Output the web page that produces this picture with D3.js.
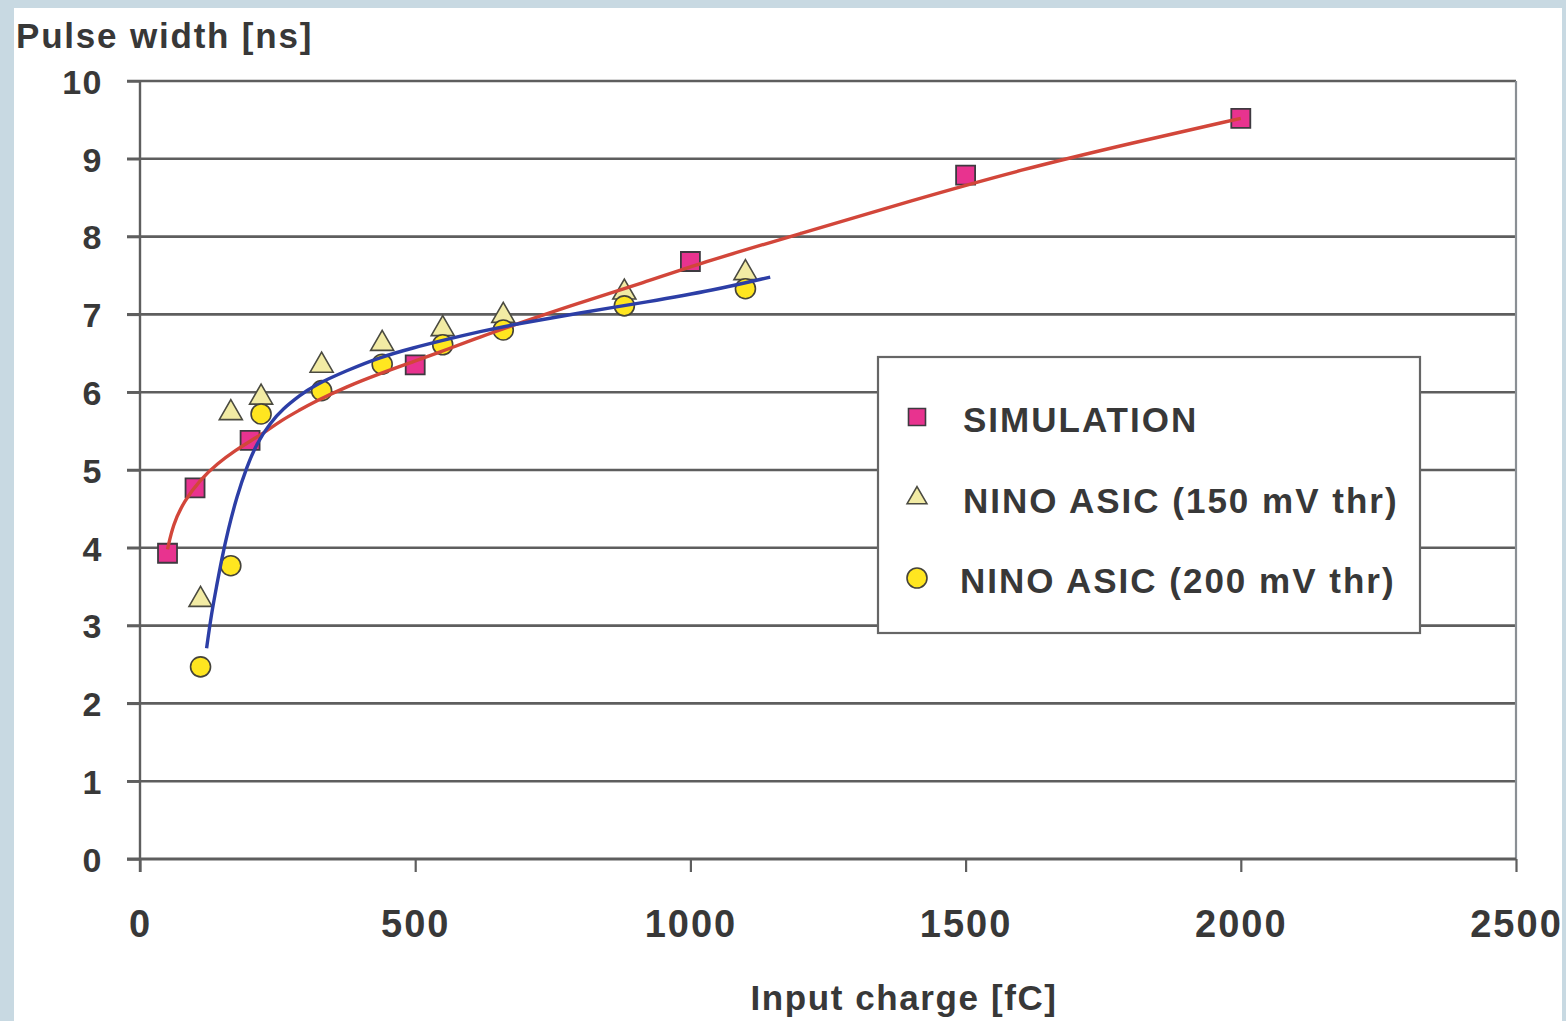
<!DOCTYPE html>
<html>
<head>
<meta charset="utf-8">
<script src="https://cdn.jsdelivr.net/npm/d3@7"></script>
<style>
  html, body { margin: 0; padding: 0; background: #c8d9e2; }
  svg { display: block; }
  text { font-family: "Liberation Sans", Arial, Helvetica, sans-serif; font-weight: bold; fill: #383838; }
</style>
</head>
<body>
<svg id="chart" width="1566" height="1021"></svg>
<script>
// ---- data ----
const xTicks = [0, 500, 1000, 1500, 2000, 2500];
const yTicks = [0, 1, 2, 3, 4, 5, 6, 7, 8, 9, 10];

const simX = [50, 100, 200, 500, 1000, 1500, 2000];
const simY = [3.93, 4.77, 5.38, 6.35, 7.68, 8.79, 9.52];

const nino150X = [110, 165, 220, 330, 440, 550, 660, 880, 1100];
const nino150Y = [3.32, 5.72, 5.92, 6.33, 6.61, 6.80, 6.97, 7.27, 7.52];

const nino200X = [110, 165, 220, 330, 440, 550, 660, 880, 1100];
const nino200Y = [2.47, 3.77, 5.72, 6.02, 6.36, 6.61, 6.80, 7.11, 7.33];

// fitted trend curves
const simFitX = [50, 60, 80, 110, 140, 175, 200, 230, 255, 290, 315, 375, 436, 500, 558, 618, 678, 799, 921, 1000, 1200, 1400, 1600, 1800, 2000];
const simFitY = [3.98, 4.3, 4.6, 4.88, 5.08, 5.26, 5.37, 5.5, 5.63, 5.77, 5.87, 6.07, 6.24, 6.4, 6.55, 6.71, 6.86, 7.15, 7.42, 7.62, 8.04, 8.46, 8.86, 9.2, 9.52];

const ninoFitX = [121, 130, 139, 148, 160, 176, 194, 212, 236, 260, 291, 314, 376, 436, 496, 558, 618, 678, 799, 921, 1042, 1145];
const ninoFitY = [2.71, 3.16, 3.5, 3.84, 4.23, 4.66, 5.04, 5.34, 5.6, 5.79, 5.96, 6.08, 6.28, 6.45, 6.57, 6.68, 6.78, 6.87, 7.02, 7.16, 7.31, 7.48];

const legendLabels = ["SIMULATION", "NINO ASIC (150 mV thr)", "NINO ASIC (200 mV thr)"];
const yTitle = "Pulse width [ns]";
const xTitle = "Input charge [fC]";

// ---- drawing ----
const svg = d3.select("#chart");
const W = 1566, H = 1021;

// white panel
svg.append("rect").attr("x", 14).attr("y", 8).attr("width", 1548).attr("height", H - 8).attr("fill", "#ffffff");

const x = d3.scaleLinear().domain([0, 2500]).range([140, 1516]);
const y = d3.scaleLinear().domain([0, 10]).range([859, 81]);

const gridColor = "#5e5e5e";

// horizontal grid lines (incl. tick stubs to the left)
svg.append("g").selectAll("line").data(yTicks.filter(d => d > 0)).join("line")
  .attr("x1", x(0) - 13).attr("x2", x(2500))
  .attr("y1", d => y(d)).attr("y2", d => y(d))
  .attr("stroke", gridColor).attr("stroke-width", 2.6);

// right border
svg.append("line").attr("x1", x(2500)).attr("x2", x(2500)).attr("y1", y(10)).attr("y2", y(0))
  .attr("stroke", "#8a8f94").attr("stroke-width", 2.2);

// y axis
const yAxis = d3.axisLeft(y).tickValues(yTicks).tickSize(13).tickPadding(24).tickFormat(d3.format("d"));
const gy = svg.append("g").attr("transform", `translate(${x(0)},0)`).call(yAxis);
gy.select(".domain").attr("stroke", gridColor).attr("stroke-width", 2.4).attr("d", `M0,${y(10)}V${y(0) + 13}`);
gy.selectAll(".tick line").attr("stroke", gridColor).attr("stroke-width", 2.4);
gy.selectAll(".tick text").attr("font-size", 34).attr("font-family", null).attr("fill", "#383838")
  .attr("letter-spacing", 1.5).attr("dy", "0.36em").attr("x", -37);

// x axis
const xAxis = d3.axisBottom(x).tickValues(xTicks).tickSize(13).tickPadding(40).tickFormat(d3.format("d"));
const gx = svg.append("g").attr("transform", `translate(0,${y(0)})`).call(xAxis);
gx.select(".domain").attr("stroke", gridColor).attr("stroke-width", 2.8).attr("d", `M${x(0) - 13},0H${x(2500)}`);
gx.selectAll(".tick line").attr("stroke", gridColor).attr("stroke-width", 2.2);
gx.selectAll(".tick text").attr("font-size", 38).attr("font-family", null).attr("fill", "#383838")
  .attr("letter-spacing", 2).attr("dy", "0.71em").attr("y", 51);

// axis titles
svg.append("text").attr("x", 16).attr("y", 48).attr("font-size", 35).attr("letter-spacing", 1.8).text(yTitle);
svg.append("text").attr("x", 904).attr("y", 1010).attr("text-anchor", "middle").attr("font-size", 35).attr("letter-spacing", 1.6).text(xTitle);

// markers
const sq = d3.symbol().type(d3.symbolSquare).size(19 * 19);
const tri = d3.symbol().type(d3.symbolTriangle).size(230);
const circ = d3.symbol().type(d3.symbolCircle).size(Math.PI * 10 * 10);

const simData = simX.map((v, i) => [v, simY[i]]);
const n150 = nino150X.map((v, i) => [v, nino150Y[i]]);
const n200 = nino200X.map((v, i) => [v, nino200Y[i]]);

const styles = {
  sim: { fill: "#e8338f", stroke: "#3e3a40" },
  n150: { fill: "#f2eba4", stroke: "#4a4a40" },
  n200: { fill: "#ffe620", stroke: "#45433a" }
};

svg.append("g").selectAll("path").data(simData).join("path")
  .attr("d", sq).attr("transform", d => `translate(${x(d[0])},${y(d[1])})`)
  .attr("fill", styles.sim.fill).attr("stroke", styles.sim.stroke).attr("stroke-width", 1.8);
svg.append("g").selectAll("path").data(n150).join("path")
  .attr("d", tri).attr("transform", d => `translate(${x(d[0])},${y(d[1]) - 1})`)
  .attr("fill", styles.n150.fill).attr("stroke", styles.n150.stroke).attr("stroke-width", 1.6);
svg.append("g").selectAll("path").data(n200).join("path")
  .attr("d", circ).attr("transform", d => `translate(${x(d[0])},${y(d[1])})`)
  .attr("fill", styles.n200.fill).attr("stroke", styles.n200.stroke).attr("stroke-width", 1.6);

// trend lines
const line = d3.line().x(d => x(d[0])).y(d => y(d[1])).curve(d3.curveBasis);
svg.append("path").datum(simFitX.map((v, i) => [v, simFitY[i]]))
  .attr("d", line).attr("fill", "none").attr("stroke", "#d2463a").attr("stroke-width", 3.4);
svg.append("path").datum(ninoFitX.map((v, i) => [v, ninoFitY[i]]))
  .attr("d", line).attr("fill", "none").attr("stroke", "#2c3ea6").attr("stroke-width", 3.4);

// legend
const lg = svg.append("g");
lg.append("rect").attr("x", 878).attr("y", 357).attr("width", 542).attr("height", 276)
  .attr("fill", "#ffffff").attr("stroke", "#666").attr("stroke-width", 2.2);
const legItems = [
  { sym: d3.symbol().type(d3.symbolSquare).size(17 * 17), st: styles.sim, cy: 417, tx: 963 },
  { sym: d3.symbol().type(d3.symbolTriangle).size(170), st: styles.n150, cy: 498, tx: 963 },
  { sym: d3.symbol().type(d3.symbolCircle).size(Math.PI * 10 * 10), st: styles.n200, cy: 578, tx: 960 }
];
legItems.forEach((it, i) => {
  lg.append("path").attr("d", it.sym).attr("transform", `translate(917,${it.cy})`)
    .attr("fill", it.st.fill).attr("stroke", it.st.stroke).attr("stroke-width", 1.6);
  lg.append("text").attr("x", it.tx).attr("y", it.cy + 15).attr("font-size", 35).attr("letter-spacing", 2)
    .text(legendLabels[i]);
});
</script>
</body>
</html>
